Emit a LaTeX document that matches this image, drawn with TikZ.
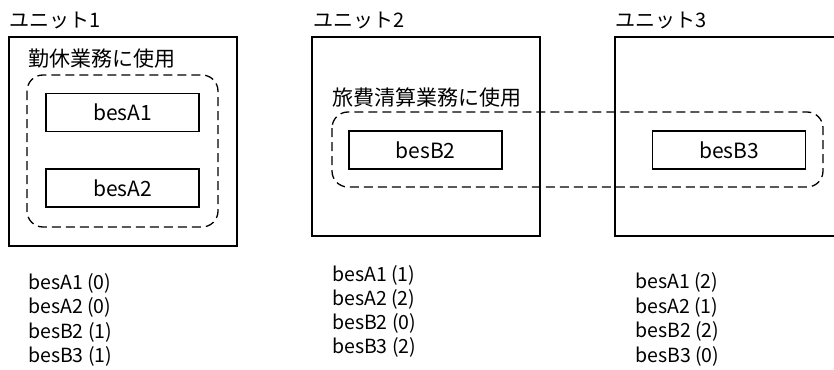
\documentclass[tikz,border=0pt]{standalone}
\usepackage{fontspec}
\setmainfont{Noto Sans CJK JP}
\begin{document}
\begin{tikzpicture}[x=1pt, y=-1pt,
    unit/.style={draw, line width=1.3pt},
    group/.style={draw, line width=1.3pt, dash pattern=on 9pt off 5pt, rounded corners=16pt},
    bes/.style={draw, line width=1.3pt, minimum width=153pt, minimum height=38pt, inner sep=0pt, font=\fontsize{21}{25}\selectfont},
    lbl/.style={anchor=west, inner sep=0pt, font=\fontsize{20}{24}\selectfont},
    glbl/.style={lbl, font=\fontsize{21}{25}\selectfont},
    cnt/.style={anchor=west, inner sep=0pt, font=\fontsize{19.5}{24}\selectfont}]
    \useasboundingbox (0,0) rectangle (834,369);
    \clip (0,0) rectangle (834,369);

    % Unita
    \draw[unit] (9,37) rectangle (237,246);
    \draw[unit] (312,37) rectangle (540,236);
    \draw[unit] (615,37) rectangle (850,236);
    \node[lbl] (u1) at (9,21) {ユニット1};
    \node[lbl] (u2) at (313,21) {ユニット2};
    \node[lbl] (u3) at (615,21) {ユニット3};

    % Gruppi
    \draw[group] (27,75) rectangle (218,227);
    \draw[group] (332,112) rectangle (823,187);
    \node[glbl] (ga) at (28,59) {勤休業務に使用};
    \node[glbl] (gb) at (332,98) {旅費清算業務に使用};

    % Bes
    \node[bes] (besA1) at (122.5,112.5) {besA1};
    \node[bes] (besA2) at (122.5,188) {besA2};
    \node[bes] (besB2) at (425.5,150) {besB2};
    \node[bes] (besB3) at (729,150) {besB3};

    % Contatori
    \foreach \t [count=\i] in {besA1 (0), besA2 (0), besB2 (1), besB3 (1)}
        \node[cnt] (c1\i) at (28, 258.5+24.5*\i) {\t};
    \foreach \t [count=\i] in {besA1 (1), besA2 (2), besB2 (0), besB3 (2)}
        \node[cnt] (c2\i) at (332, 250.7+24.3*\i) {\t};
    \foreach \t [count=\i] in {besA1 (2), besA2 (1), besB2 (2), besB3 (0)}
        \node[cnt] (c3\i) at (635, 258+24.5*\i) {\t};

\end{tikzpicture}
\end{document}
